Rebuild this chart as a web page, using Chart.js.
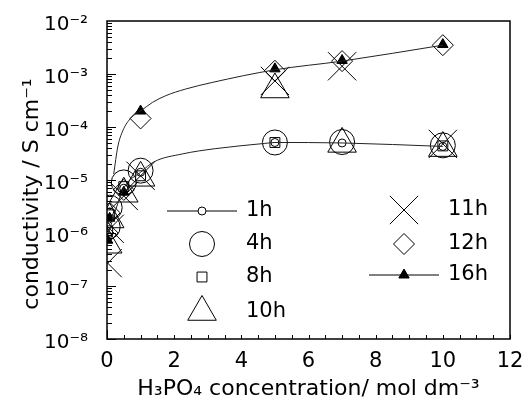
<!DOCTYPE html>
<html>
<head>
<meta charset="utf-8">
<script src="https://cdn.jsdelivr.net/npm/chart.js@4.4.1/dist/chart.umd.min.js"></script>
<style>
  html, body { margin: 0; padding: 0; background: #fff; }
</style>
</head>
<body>
<canvas id="chart" width="531" height="405"></canvas>
<script>
// H3PO4 concentration (mol dm-3) at which samples were measured
const conc = [0.02, 0.08, 0.5, 1, 5, 7, 10];

// conductivity (S cm-1) per heat-treatment time
const h1  = [9e-7,   2.5e-6, 7e-6,   1.4e-5,  5.1e-5,  5.0e-5,  4.3e-5];
const h4  = [1.3e-6, 3e-6,   9e-6,   1.5e-5,  5.1e-5,  5.2e-5,  4.5e-5];
const h8  = [1.1e-6, 2.2e-6, 7.5e-6, 1.2e-5,  5.1e-5,  null,    4.4e-5];
const h10 = [6e-7,   1.8e-6, 5.5e-6, 1.1e-5,  5.1e-4,  4.8e-5,  4.0e-5];
const h11 = [2.7e-7, 1.2e-6, 5e-6,   1.2e-5,  7.4e-4,  1.4e-3,  4.8e-5];
const h12 = [1.0e-6, 2.4e-6, 6.5e-6, 1.45e-4, 1.15e-3, 1.75e-3, 3.5e-3];
const h16 = [7.3e-7, 1.9e-6, 5.9e-6, 2.0e-4,  1.25e-3, 1.8e-3,  3.6e-3];

// guide curves drawn through the 16h and 1h data
const fit16Conc = [0.2, 0.32, 0.47, 0.72, 1, 1.35, 1.75, 2.34, 3.12, 5, 7, 10];
const fit16 = [1.3e-5, 4.2e-5, 8.5e-5, 1.5e-4, 2.0e-4, 2.9e-4, 3.9e-4, 5.2e-4, 6.9e-4, 1.2e-3, 1.75e-3, 3.5e-3];
const fit1Conc = [0.02, 0.5, 1, 1.4, 2.24, 3.22, 4.7, 5, 7, 10];
const fit1 = [9e-7, 7e-6, 1.4e-5, 2.2e-5, 3.1e-5, 3.9e-5, 4.9e-5, 5.1e-5, 5.0e-5, 4.3e-5];

const xTicks = [0, 2, 4, 6, 8, 10, 12];
const yTicks = [1e-8, 1e-7, 1e-6, 1e-5, 1e-4, 1e-3, 1e-2];

const FONT = "'DejaVu Sans', sans-serif";
const SUP = {'-': '\u207B', '0': '\u2070', '1': '\u00B9', '2': '\u00B2', '3': '\u00B3', '4': '\u2074',
             '5': '\u2075', '6': '\u2076', '7': '\u2077', '8': '\u2078', '9': '\u2079'};
const sup = s => String(s).split('').map(c => SUP[c] || c).join('');

const pts = (xs, ys) => xs.map((x, i) => ({x: x, y: ys[i]})).filter(p => p.y != null);

function marker(label, ys, style, radius, fill) {
  return {
    label: label,
    data: pts(conc, ys),
    showLine: false,
    pointStyle: style,
    pointRadius: radius,
    pointHoverRadius: radius,
    pointBorderWidth: 1,
    borderColor: '#000',
    pointBorderColor: '#000',
    pointBackgroundColor: fill ? '#000' : 'rgba(0,0,0,0)',
    backgroundColor: fill ? '#000' : 'rgba(0,0,0,0)'
  };
}

function curve(xs, ys) {
  return {
    label: '',
    data: pts(xs, ys),
    showLine: true,
    pointRadius: 0,
    borderColor: '#222',
    borderWidth: 1,
    cubicInterpolationMode: 'monotone'
  };
}

// little symbols for the legend, same geometry as Chart.js point styles
function symbol(ctx, style, x, y, r, fill) {
  ctx.beginPath();
  if (style === 'circle') {
    ctx.arc(x, y, r, 0, Math.PI * 2);
  } else if (style === 'rect') {
    const s = r * Math.SQRT1_2;
    ctx.rect(x - s, y - s, 2 * s, 2 * s);
  } else if (style === 'triangle') {
    ctx.moveTo(x, y - r);
    ctx.lineTo(x + r * 0.866, y + r * 0.5);
    ctx.lineTo(x - r * 0.866, y + r * 0.5);
    ctx.closePath();
  } else if (style === 'rectRot') {
    ctx.moveTo(x - r, y); ctx.lineTo(x, y - r); ctx.lineTo(x + r, y); ctx.lineTo(x, y + r);
    ctx.closePath();
  } else if (style === 'crossRot') {
    const o = r * Math.SQRT1_2;
    ctx.moveTo(x - o, y - o); ctx.lineTo(x + o, y + o);
    ctx.moveTo(x + o, y - o); ctx.lineTo(x - o, y + o);
  }
  if (fill) { ctx.fillStyle = '#000'; ctx.fill(); }
  ctx.stroke();
}

const legendItems = [
  {text: '1h',  style: 'circle',   r: 4,    line: true,  col: 0, row: 0},
  {text: '4h',  style: 'circle',   r: 12.5,               col: 0, row: 1},
  {text: '8h',  style: 'rect',     r: 7,                  col: 0, row: 2},
  {text: '10h', style: 'triangle', r: 16.5,               col: 0, row: 3},
  {text: '11h', style: 'crossRot', r: 20,                 col: 1, row: 0},
  {text: '12h', style: 'rectRot',  r: 10.5,               col: 1, row: 1},
  {text: '16h', style: 'triangle', r: 6, fill: true, line: true, col: 1, row: 2}
];

const framePlugin = {
  id: 'frame',
  afterDatasetsDraw(chart) {
    const {ctx, chartArea: a, scales: {x, y}} = chart;
    ctx.save();
    ctx.strokeStyle = '#000';
    ctx.lineWidth = 1;
    // inward ticks on the left axis, log minors
    for (let e = -8; e < -2; e++) {
      for (let k = 1; k < 10; k++) {
        const py = Math.round(y.getPixelForValue(k * Math.pow(10, e))) + 0.5;
        ctx.beginPath();
        ctx.moveTo(a.left, py);
        ctx.lineTo(a.left + (k === 1 ? 9 : 5), py);
        ctx.stroke();
      }
    }
    // inward ticks on the bottom axis every 0.5
    for (let v = 0; v <= 12; v += 0.5) {
      const px = Math.round(x.getPixelForValue(v)) + 0.5;
      ctx.beginPath();
      ctx.moveTo(px, a.bottom);
      ctx.lineTo(px, a.bottom - (v === 0 ? 9 : 4));
      ctx.stroke();
    }
    ctx.lineWidth = 1.5;
    ctx.strokeRect(a.left, a.top, a.right - a.left, a.bottom - a.top);
    ctx.restore();
  },
  afterDraw(chart) {
    const {ctx, chartArea: a} = chart;
    const colX = [a.left + 95, a.left + 297];
    const rowY = [[190, 223, 256, 291], [189, 223, 254]];
    ctx.save();
    ctx.strokeStyle = '#000';
    ctx.lineWidth = 1;
    ctx.font = '21px ' + FONT;
    ctx.textBaseline = 'middle';
    legendItems.forEach(it => {
      const cx = colX[it.col];
      const cy = a.top + rowY[it.col][it.row];
      if (it.line) {
        ctx.beginPath();
        ctx.moveTo(cx - 35, cy);
        ctx.lineTo(cx + 35, cy);
        ctx.stroke();
        if (!it.fill) {
          ctx.beginPath();
          ctx.arc(cx, cy, it.r, 0, Math.PI * 2);
          ctx.fillStyle = '#fff';
          ctx.fill();
        }
      }
      symbol(ctx, it.style, cx, cy, it.r, it.fill);
      ctx.fillStyle = '#000';
      ctx.fillText(it.text, cx + 44, cy);
    });
    ctx.restore();
  }
};

new Chart(document.getElementById('chart'), {
  type: 'scatter',
  data: {
    datasets: [
      curve(fit16Conc, fit16),
      curve(fit1Conc, fit1),
      marker('1h', h1, 'circle', 4),
      marker('4h', h4, 'circle', 12.5),
      marker('8h', h8, 'rect', 7),
      marker('10h', h10, 'triangle', 16.5),
      marker('11h', h11, 'crossRot', 20),
      marker('12h', h12, 'rectRot', 10.5),
      marker('16h', h16, 'triangle', 6, true)
    ]
  },
  options: {
    responsive: false,
    animation: false,
    devicePixelRatio: 1,
    layout: { padding: { top: 20, right: 20, left: 0, bottom: 0 } },
    plugins: { legend: { display: false }, tooltip: { enabled: false } },
    scales: {
      x: {
        type: 'linear',
        min: 0,
        max: 12,
        afterBuildTicks: s => { s.ticks = xTicks.map(v => ({value: v})); },
        afterFit: s => { s.height = 66; s.paddingLeft = 0; s.paddingRight = 0; },
        grid: { display: false, drawTicks: false },
        border: { display: false },
        ticks: { color: '#000', font: { family: FONT, size: 21 }, padding: 10, autoSkip: false, maxRotation: 0 },
        title: {
          display: true,
          text: 'H\u2083PO\u2084 concentration/ mol dm' + sup(-3),
          color: '#000',
          font: { family: FONT, size: 22 },
          padding: { top: 0, bottom: 3 }
        }
      },
      y: {
        type: 'logarithmic',
        min: 1e-8,
        max: 1e-2,
        afterBuildTicks: s => { s.ticks = yTicks.map(v => ({value: v})); },
        afterFit: s => { s.width = 107; s.paddingTop = 0; s.paddingBottom = 0; },
        grid: { display: false, drawTicks: false },
        border: { display: false },
        ticks: {
          color: '#000',
          font: { family: FONT, size: 20 },
          padding: 19,
          labelOffset: 4,
          autoSkip: false,
          callback: v => '10' + sup(Math.round(Math.log10(v)))
        },
        title: {
          display: true,
          text: 'conductivity / S cm' + sup(-1) + '\u00A0\u00A0\u00A0\u00A0',
          color: '#000',
          font: { family: FONT, size: 22 },
          padding: { top: 19, bottom: 0 }
        }
      }
    }
  },
  plugins: [framePlugin]
});
</script>
</body>
</html>
